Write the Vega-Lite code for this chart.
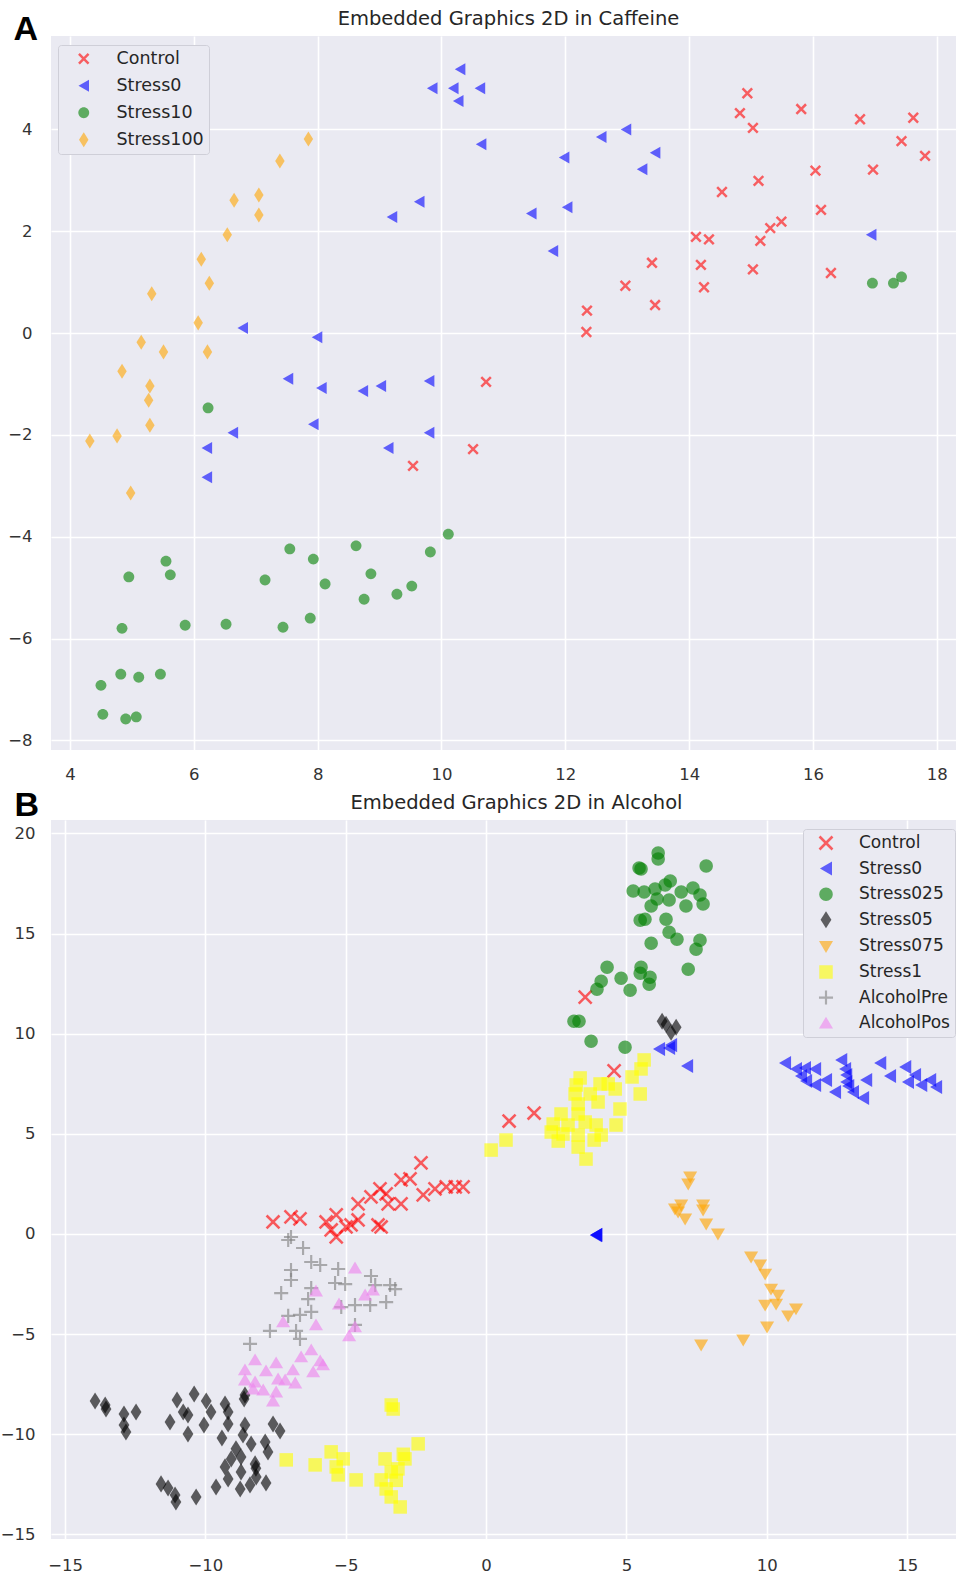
{
  "$schema": "https://vega.github.io/schema/vega-lite/v6.json",
  "background": "white",
  "padding": {"left": 0, "top": 8, "right": 0, "bottom": 0},
  "spacing": 5,
  "config": {
    "font": "DejaVu Sans",
    "view": {"fill": "#eaeaf2", "stroke": null},
    "axis": {"domain": false, "ticks": false, "grid": true, "gridColor": "#ffffff", "gridWidth": 1.6, "labelFont": "DejaVu Sans", "labelFontSize": 16.5, "labelColor": "#333333"},
    "legend": {"orient": "none", "padding": 5, "rowPadding": 8, "labelFont": "DejaVu Sans", "labelColor": "#262626", "symbolStrokeWidth": 0, "symbolOpacity": 0.6, "fillColor": "#eaeaf2", "strokeColor": "#cfcfd8", "cornerRadius": 3}
  },
  "resolve": {
    "scale": {"x": "independent", "y": "independent", "color": "independent", "shape": "independent"},
    "legend": {"color": "independent", "shape": "independent"}
  },
  "datasets": {
    "caffeine": [
      {"x": 14.94, "y": 4.71, "g": "Control"}, {"x": 14.82, "y": 4.32, "g": "Control"}, {"x": 15.03, "y": 4.03, "g": "Control"}, {"x": 15.81, "y": 4.40, "g": "Control"}, {"x": 16.76, "y": 4.20, "g": "Control"}, {"x": 17.62, "y": 4.23, "g": "Control"}, {"x": 17.43, "y": 3.77, "g": "Control"}, {"x": 17.81, "y": 3.48, "g": "Control"}, {"x": 16.04, "y": 3.19, "g": "Control"}, {"x": 16.97, "y": 3.21, "g": "Control"}, {"x": 15.12, "y": 2.99, "g": "Control"}, {"x": 14.53, "y": 2.77, "g": "Control"}, {"x": 16.13, "y": 2.42, "g": "Control"}, {"x": 15.49, "y": 2.19, "g": "Control"}, {"x": 15.31, "y": 2.06, "g": "Control"}, {"x": 14.11, "y": 1.89, "g": "Control"}, {"x": 14.32, "y": 1.84, "g": "Control"}, {"x": 15.15, "y": 1.81, "g": "Control"}, {"x": 13.40, "y": 1.38, "g": "Control"}, {"x": 14.19, "y": 1.34, "g": "Control"}, {"x": 15.03, "y": 1.25, "g": "Control"}, {"x": 16.29, "y": 1.18, "g": "Control"}, {"x": 12.97, "y": 0.93, "g": "Control"}, {"x": 14.24, "y": 0.90, "g": "Control"}, {"x": 13.45, "y": 0.55, "g": "Control"}, {"x": 12.35, "y": 0.44, "g": "Control"}, {"x": 12.34, "y": 0.02, "g": "Control"}, {"x": 10.72, "y": -0.96, "g": "Control"}, {"x": 10.51, "y": -2.28, "g": "Control"}, {"x": 9.54, "y": -2.61, "g": "Control"},
      {"x": 10.30, "y": 5.18, "g": "Stress0"}, {"x": 9.85, "y": 4.81, "g": "Stress0"}, {"x": 10.19, "y": 4.81, "g": "Stress0"}, {"x": 10.27, "y": 4.56, "g": "Stress0"}, {"x": 10.62, "y": 4.81, "g": "Stress0"}, {"x": 10.64, "y": 3.71, "g": "Stress0"}, {"x": 12.58, "y": 3.85, "g": "Stress0"}, {"x": 12.98, "y": 4.00, "g": "Stress0"}, {"x": 11.98, "y": 3.45, "g": "Stress0"}, {"x": 13.45, "y": 3.54, "g": "Stress0"}, {"x": 13.24, "y": 3.22, "g": "Stress0"}, {"x": 11.45, "y": 2.35, "g": "Stress0"}, {"x": 12.03, "y": 2.47, "g": "Stress0"}, {"x": 11.80, "y": 1.61, "g": "Stress0"}, {"x": 16.94, "y": 1.93, "g": "Stress0"}, {"x": 9.64, "y": 2.58, "g": "Stress0"}, {"x": 9.20, "y": 2.28, "g": "Stress0"}, {"x": 6.79, "y": 0.10, "g": "Stress0"}, {"x": 7.99, "y": -0.08, "g": "Stress0"}, {"x": 7.52, "y": -0.90, "g": "Stress0"}, {"x": 8.06, "y": -1.08, "g": "Stress0"}, {"x": 8.73, "y": -1.14, "g": "Stress0"}, {"x": 9.02, "y": -1.04, "g": "Stress0"}, {"x": 9.80, "y": -0.94, "g": "Stress0"}, {"x": 7.93, "y": -1.79, "g": "Stress0"}, {"x": 6.63, "y": -1.96, "g": "Stress0"}, {"x": 9.80, "y": -1.96, "g": "Stress0"}, {"x": 6.21, "y": -2.26, "g": "Stress0"}, {"x": 9.14, "y": -2.26, "g": "Stress0"}, {"x": 6.21, "y": -2.83, "g": "Stress0"},
      {"x": 16.96, "y": 0.98, "g": "Stress10"}, {"x": 17.30, "y": 0.98, "g": "Stress10"}, {"x": 17.43, "y": 1.10, "g": "Stress10"}, {"x": 6.23, "y": -1.47, "g": "Stress10"}, {"x": 10.11, "y": -3.95, "g": "Stress10"}, {"x": 7.55, "y": -4.24, "g": "Stress10"}, {"x": 8.62, "y": -4.18, "g": "Stress10"}, {"x": 7.93, "y": -4.44, "g": "Stress10"}, {"x": 9.82, "y": -4.30, "g": "Stress10"}, {"x": 5.55, "y": -4.48, "g": "Stress10"}, {"x": 5.62, "y": -4.75, "g": "Stress10"}, {"x": 4.95, "y": -4.79, "g": "Stress10"}, {"x": 7.15, "y": -4.85, "g": "Stress10"}, {"x": 8.12, "y": -4.93, "g": "Stress10"}, {"x": 8.86, "y": -4.73, "g": "Stress10"}, {"x": 8.75, "y": -5.23, "g": "Stress10"}, {"x": 9.28, "y": -5.13, "g": "Stress10"}, {"x": 9.52, "y": -4.97, "g": "Stress10"}, {"x": 7.88, "y": -5.60, "g": "Stress10"}, {"x": 7.44, "y": -5.78, "g": "Stress10"}, {"x": 6.52, "y": -5.72, "g": "Stress10"}, {"x": 5.86, "y": -5.74, "g": "Stress10"}, {"x": 4.84, "y": -5.80, "g": "Stress10"}, {"x": 4.82, "y": -6.70, "g": "Stress10"}, {"x": 5.11, "y": -6.76, "g": "Stress10"}, {"x": 5.46, "y": -6.70, "g": "Stress10"}, {"x": 4.50, "y": -6.92, "g": "Stress10"}, {"x": 4.53, "y": -7.49, "g": "Stress10"}, {"x": 4.90, "y": -7.58, "g": "Stress10"}, {"x": 5.07, "y": -7.54, "g": "Stress10"},
      {"x": 7.85, "y": 3.81, "g": "Stress100"}, {"x": 7.39, "y": 3.38, "g": "Stress100"}, {"x": 7.05, "y": 2.71, "g": "Stress100"}, {"x": 6.65, "y": 2.61, "g": "Stress100"}, {"x": 7.05, "y": 2.32, "g": "Stress100"}, {"x": 6.54, "y": 1.93, "g": "Stress100"}, {"x": 6.12, "y": 1.45, "g": "Stress100"}, {"x": 6.25, "y": 0.98, "g": "Stress100"}, {"x": 5.32, "y": 0.77, "g": "Stress100"}, {"x": 6.07, "y": 0.20, "g": "Stress100"}, {"x": 5.15, "y": -0.18, "g": "Stress100"}, {"x": 5.51, "y": -0.37, "g": "Stress100"}, {"x": 6.22, "y": -0.37, "g": "Stress100"}, {"x": 4.84, "y": -0.75, "g": "Stress100"}, {"x": 5.29, "y": -1.04, "g": "Stress100"}, {"x": 5.27, "y": -1.32, "g": "Stress100"}, {"x": 5.29, "y": -1.81, "g": "Stress100"}, {"x": 4.76, "y": -2.02, "g": "Stress100"}, {"x": 4.32, "y": -2.12, "g": "Stress100"}, {"x": 4.98, "y": -3.14, "g": "Stress100"}
    ],
    "alcohol": [
      {"x": 3.53, "y": 11.83, "g": "Control"}, {"x": 4.56, "y": 8.14, "g": "Control"}, {"x": 1.71, "y": 6.04, "g": "Control"}, {"x": 0.82, "y": 5.64, "g": "Control"}, {"x": -7.59, "y": 0.60, "g": "Control"}, {"x": -6.95, "y": 0.85, "g": "Control"}, {"x": -6.63, "y": 0.75, "g": "Control"}, {"x": -5.70, "y": 0.60, "g": "Control"}, {"x": -5.34, "y": 0.95, "g": "Control"}, {"x": -5.52, "y": 0.20, "g": "Control"}, {"x": -5.34, "y": -0.15, "g": "Control"}, {"x": -4.99, "y": 0.35, "g": "Control"}, {"x": -4.81, "y": 0.45, "g": "Control"}, {"x": -4.56, "y": 0.70, "g": "Control"}, {"x": -4.56, "y": 1.50, "g": "Control"}, {"x": -4.10, "y": 1.85, "g": "Control"}, {"x": -3.78, "y": 2.25, "g": "Control"}, {"x": -3.56, "y": 2.00, "g": "Control"}, {"x": -3.49, "y": 1.50, "g": "Control"}, {"x": -3.03, "y": 1.50, "g": "Control"}, {"x": -3.85, "y": 0.45, "g": "Control"}, {"x": -3.74, "y": 0.35, "g": "Control"}, {"x": -3.03, "y": 2.70, "g": "Control"}, {"x": -2.71, "y": 2.75, "g": "Control"}, {"x": -2.24, "y": 1.95, "g": "Control"}, {"x": -1.82, "y": 2.25, "g": "Control"}, {"x": -1.42, "y": 2.35, "g": "Control"}, {"x": -1.10, "y": 2.35, "g": "Control"}, {"x": -0.82, "y": 2.35, "g": "Control"}, {"x": -2.32, "y": 3.55, "g": "Control"},
      {"x": 6.16, "y": 9.24, "g": "Stress0"}, {"x": 6.52, "y": 9.29, "g": "Stress0"}, {"x": 6.59, "y": 9.43, "g": "Stress0"}, {"x": 7.16, "y": 8.39, "g": "Stress0"}, {"x": 10.65, "y": 8.54, "g": "Stress0"}, {"x": 11.04, "y": 8.24, "g": "Stress0"}, {"x": 11.36, "y": 8.29, "g": "Stress0"}, {"x": 11.72, "y": 8.24, "g": "Stress0"}, {"x": 11.22, "y": 7.89, "g": "Stress0"}, {"x": 11.40, "y": 7.64, "g": "Stress0"}, {"x": 11.72, "y": 7.44, "g": "Stress0"}, {"x": 12.11, "y": 7.69, "g": "Stress0"}, {"x": 12.65, "y": 8.69, "g": "Stress0"}, {"x": 12.79, "y": 8.24, "g": "Stress0"}, {"x": 12.83, "y": 7.94, "g": "Stress0"}, {"x": 12.83, "y": 7.59, "g": "Stress0"}, {"x": 12.43, "y": 7.09, "g": "Stress0"}, {"x": 12.90, "y": 7.39, "g": "Stress0"}, {"x": 13.07, "y": 7.09, "g": "Stress0"}, {"x": 13.43, "y": 6.79, "g": "Stress0"}, {"x": 13.54, "y": 7.69, "g": "Stress0"}, {"x": 14.04, "y": 8.54, "g": "Stress0"}, {"x": 14.39, "y": 7.89, "g": "Stress0"}, {"x": 14.93, "y": 8.34, "g": "Stress0"}, {"x": 15.28, "y": 7.94, "g": "Stress0"}, {"x": 15.03, "y": 7.59, "g": "Stress0"}, {"x": 15.50, "y": 7.44, "g": "Stress0"}, {"x": 15.82, "y": 7.69, "g": "Stress0"}, {"x": 16.03, "y": 7.34, "g": "Stress0"}, {"x": 3.92, "y": -0.05, "g": "Stress0"}, {"x": 3.93, "y": -0.04, "g": "Stress0"}, {"x": 3.91, "y": -0.06, "g": "Stress0"},
      {"x": 6.13, "y": 19.02, "g": "Stress025"}, {"x": 6.13, "y": 18.72, "g": "Stress025"}, {"x": 5.45, "y": 18.27, "g": "Stress025"}, {"x": 5.52, "y": 18.22, "g": "Stress025"}, {"x": 7.84, "y": 18.37, "g": "Stress025"}, {"x": 5.24, "y": 17.12, "g": "Stress025"}, {"x": 5.63, "y": 17.07, "g": "Stress025"}, {"x": 6.02, "y": 17.22, "g": "Stress025"}, {"x": 6.38, "y": 17.42, "g": "Stress025"}, {"x": 6.56, "y": 17.62, "g": "Stress025"}, {"x": 6.95, "y": 17.07, "g": "Stress025"}, {"x": 7.37, "y": 17.27, "g": "Stress025"}, {"x": 7.62, "y": 16.92, "g": "Stress025"}, {"x": 6.09, "y": 16.72, "g": "Stress025"}, {"x": 6.52, "y": 16.67, "g": "Stress025"}, {"x": 5.88, "y": 16.37, "g": "Stress025"}, {"x": 7.12, "y": 16.37, "g": "Stress025"}, {"x": 7.73, "y": 16.47, "g": "Stress025"}, {"x": 5.49, "y": 15.67, "g": "Stress025"}, {"x": 5.66, "y": 15.72, "g": "Stress025"}, {"x": 6.41, "y": 15.72, "g": "Stress025"}, {"x": 6.52, "y": 15.07, "g": "Stress025"}, {"x": 6.80, "y": 14.72, "g": "Stress025"}, {"x": 5.88, "y": 14.52, "g": "Stress025"}, {"x": 7.62, "y": 14.67, "g": "Stress025"}, {"x": 7.48, "y": 14.22, "g": "Stress025"}, {"x": 4.31, "y": 13.32, "g": "Stress025"}, {"x": 5.52, "y": 13.32, "g": "Stress025"}, {"x": 5.49, "y": 13.02, "g": "Stress025"}, {"x": 5.84, "y": 12.82, "g": "Stress025"}, {"x": 7.20, "y": 13.22, "g": "Stress025"}, {"x": 4.81, "y": 12.77, "g": "Stress025"}, {"x": 4.10, "y": 12.62, "g": "Stress025"}, {"x": 5.81, "y": 12.47, "g": "Stress025"}, {"x": 3.95, "y": 12.22, "g": "Stress025"}, {"x": 5.13, "y": 12.17, "g": "Stress025"}, {"x": 3.13, "y": 10.62, "g": "Stress025"}, {"x": 3.31, "y": 10.62, "g": "Stress025"}, {"x": 3.74, "y": 9.62, "g": "Stress025"}, {"x": 4.95, "y": 9.32, "g": "Stress025"},
      {"x": 6.27, "y": 10.62, "g": "Stress05"}, {"x": 6.41, "y": 10.47, "g": "Stress05"}, {"x": 6.77, "y": 10.32, "g": "Stress05"}, {"x": 6.59, "y": 10.07, "g": "Stress05"}, {"x": -13.93, "y": -8.34, "g": "Stress05"}, {"x": -13.57, "y": -8.54, "g": "Stress05"}, {"x": -13.54, "y": -8.74, "g": "Stress05"}, {"x": -12.90, "y": -8.99, "g": "Stress05"}, {"x": -12.47, "y": -8.89, "g": "Stress05"}, {"x": -12.90, "y": -9.54, "g": "Stress05"}, {"x": -12.83, "y": -9.89, "g": "Stress05"}, {"x": -11.01, "y": -8.29, "g": "Stress05"}, {"x": -10.40, "y": -7.99, "g": "Stress05"}, {"x": -9.97, "y": -8.34, "g": "Stress05"}, {"x": -10.79, "y": -8.89, "g": "Stress05"}, {"x": -10.62, "y": -9.04, "g": "Stress05"}, {"x": -9.80, "y": -8.89, "g": "Stress05"}, {"x": -9.30, "y": -8.49, "g": "Stress05"}, {"x": -9.19, "y": -8.89, "g": "Stress05"}, {"x": -8.59, "y": -8.04, "g": "Stress05"}, {"x": -8.62, "y": -8.24, "g": "Stress05"}, {"x": -11.26, "y": -9.39, "g": "Stress05"}, {"x": -10.05, "y": -9.54, "g": "Stress05"}, {"x": -9.19, "y": -9.49, "g": "Stress05"}, {"x": -8.59, "y": -9.54, "g": "Stress05"}, {"x": -10.62, "y": -9.99, "g": "Stress05"}, {"x": -7.59, "y": -9.49, "g": "Stress05"}, {"x": -7.34, "y": -9.84, "g": "Stress05"}, {"x": -9.41, "y": -10.19, "g": "Stress05"}, {"x": -8.66, "y": -10.04, "g": "Stress05"}, {"x": -8.37, "y": -10.49, "g": "Stress05"}, {"x": -7.87, "y": -10.39, "g": "Stress05"}, {"x": -8.91, "y": -10.73, "g": "Stress05"}, {"x": -7.77, "y": -10.88, "g": "Stress05"}, {"x": -9.08, "y": -11.23, "g": "Stress05"}, {"x": -8.73, "y": -11.13, "g": "Stress05"}, {"x": -8.23, "y": -11.48, "g": "Stress05"}, {"x": -9.30, "y": -11.63, "g": "Stress05"}, {"x": -8.20, "y": -11.70, "g": "Stress05"}, {"x": -8.73, "y": -11.88, "g": "Stress05"}, {"x": -9.19, "y": -12.23, "g": "Stress05"}, {"x": -8.19, "y": -12.13, "g": "Stress05"}, {"x": -7.84, "y": -12.43, "g": "Stress05"}, {"x": -8.41, "y": -12.53, "g": "Stress05"}, {"x": -8.76, "y": -12.73, "g": "Stress05"}, {"x": -9.62, "y": -12.63, "g": "Stress05"}, {"x": -11.58, "y": -12.48, "g": "Stress05"}, {"x": -11.33, "y": -12.68, "g": "Stress05"}, {"x": -11.08, "y": -13.03, "g": "Stress05"}, {"x": -11.05, "y": -13.38, "g": "Stress05"}, {"x": -10.33, "y": -13.13, "g": "Stress05"},
      {"x": 7.27, "y": 2.85, "g": "Stress075"}, {"x": 7.20, "y": 2.50, "g": "Stress075"}, {"x": 6.73, "y": 1.25, "g": "Stress075"}, {"x": 6.95, "y": 1.45, "g": "Stress075"}, {"x": 6.84, "y": 1.10, "g": "Stress075"}, {"x": 7.09, "y": 0.75, "g": "Stress075"}, {"x": 7.73, "y": 1.45, "g": "Stress075"}, {"x": 7.73, "y": 1.20, "g": "Stress075"}, {"x": 7.84, "y": 0.50, "g": "Stress075"}, {"x": 8.26, "y": 0.00, "g": "Stress075"}, {"x": 9.44, "y": -1.15, "g": "Stress075"}, {"x": 9.76, "y": -1.55, "g": "Stress075"}, {"x": 9.94, "y": -2.00, "g": "Stress075"}, {"x": 10.15, "y": -2.75, "g": "Stress075"}, {"x": 10.40, "y": -3.05, "g": "Stress075"}, {"x": 9.94, "y": -3.55, "g": "Stress075"}, {"x": 10.33, "y": -3.50, "g": "Stress075"}, {"x": 11.04, "y": -3.74, "g": "Stress075"}, {"x": 10.76, "y": -4.09, "g": "Stress075"}, {"x": 10.01, "y": -4.64, "g": "Stress075"}, {"x": 9.16, "y": -5.29, "g": "Stress075"}, {"x": 7.66, "y": -5.54, "g": "Stress075"},
      {"x": 5.63, "y": 8.69, "g": "Stress1"}, {"x": 5.52, "y": 8.24, "g": "Stress1"}, {"x": 5.20, "y": 7.84, "g": "Stress1"}, {"x": 3.35, "y": 7.79, "g": "Stress1"}, {"x": 4.06, "y": 7.49, "g": "Stress1"}, {"x": 4.35, "y": 7.49, "g": "Stress1"}, {"x": 4.60, "y": 7.24, "g": "Stress1"}, {"x": 3.21, "y": 7.44, "g": "Stress1"}, {"x": 3.17, "y": 6.99, "g": "Stress1"}, {"x": 3.71, "y": 6.99, "g": "Stress1"}, {"x": 5.49, "y": 6.99, "g": "Stress1"}, {"x": 3.99, "y": 6.59, "g": "Stress1"}, {"x": 3.28, "y": 6.49, "g": "Stress1"}, {"x": 4.77, "y": 6.24, "g": "Stress1"}, {"x": 2.67, "y": 5.99, "g": "Stress1"}, {"x": 3.28, "y": 5.99, "g": "Stress1"}, {"x": 2.39, "y": 5.49, "g": "Stress1"}, {"x": 2.92, "y": 5.44, "g": "Stress1"}, {"x": 3.53, "y": 5.59, "g": "Stress1"}, {"x": 3.92, "y": 5.44, "g": "Stress1"}, {"x": 4.63, "y": 5.44, "g": "Stress1"}, {"x": 2.32, "y": 5.09, "g": "Stress1"}, {"x": 2.74, "y": 4.99, "g": "Stress1"}, {"x": 3.28, "y": 4.94, "g": "Stress1"}, {"x": 3.85, "y": 4.69, "g": "Stress1"}, {"x": 4.10, "y": 4.94, "g": "Stress1"}, {"x": 2.57, "y": 4.64, "g": "Stress1"}, {"x": 3.28, "y": 4.34, "g": "Stress1"}, {"x": 3.56, "y": 3.74, "g": "Stress1"}, {"x": 0.71, "y": 4.69, "g": "Stress1"}, {"x": 0.18, "y": 4.19, "g": "Stress1"},
      {"x": -3.31, "y": -8.74, "g": "Stress1"}, {"x": -3.38, "y": -8.54, "g": "Stress1"}, {"x": -2.42, "y": -10.48, "g": "Stress1"}, {"x": -2.95, "y": -11.00, "g": "Stress1"}, {"x": -2.89, "y": -11.23, "g": "Stress1"}, {"x": -3.60, "y": -11.23, "g": "Stress1"}, {"x": -3.14, "y": -11.73, "g": "Stress1"}, {"x": -3.38, "y": -11.88, "g": "Stress1"}, {"x": -3.20, "y": -12.30, "g": "Stress1"}, {"x": -3.74, "y": -12.28, "g": "Stress1"}, {"x": -3.56, "y": -12.73, "g": "Stress1"}, {"x": -3.38, "y": -13.13, "g": "Stress1"}, {"x": -3.06, "y": -13.63, "g": "Stress1"}, {"x": -5.52, "y": -10.88, "g": "Stress1"}, {"x": -5.09, "y": -11.23, "g": "Stress1"}, {"x": -5.34, "y": -11.63, "g": "Stress1"}, {"x": -6.09, "y": -11.53, "g": "Stress1"}, {"x": -5.27, "y": -12.03, "g": "Stress1"}, {"x": -4.63, "y": -12.28, "g": "Stress1"}, {"x": -7.12, "y": -11.28, "g": "Stress1"},
      {"x": -7.05, "y": -0.30, "g": "AlcoholPre"}, {"x": -6.95, "y": -0.15, "g": "AlcoholPre"}, {"x": -6.52, "y": -0.70, "g": "AlcoholPre"}, {"x": -6.23, "y": -1.40, "g": "AlcoholPre"}, {"x": -5.91, "y": -1.55, "g": "AlcoholPre"}, {"x": -6.95, "y": -1.80, "g": "AlcoholPre"}, {"x": -6.95, "y": -2.30, "g": "AlcoholPre"}, {"x": -5.27, "y": -1.75, "g": "AlcoholPre"}, {"x": -4.10, "y": -2.10, "g": "AlcoholPre"}, {"x": -5.38, "y": -2.45, "g": "AlcoholPre"}, {"x": -5.02, "y": -2.50, "g": "AlcoholPre"}, {"x": -3.95, "y": -2.55, "g": "AlcoholPre"}, {"x": -3.42, "y": -2.55, "g": "AlcoholPre"}, {"x": -3.24, "y": -2.75, "g": "AlcoholPre"}, {"x": -6.23, "y": -2.70, "g": "AlcoholPre"}, {"x": -7.30, "y": -2.95, "g": "AlcoholPre"}, {"x": -6.34, "y": -3.25, "g": "AlcoholPre"}, {"x": -4.67, "y": -3.55, "g": "AlcoholPre"}, {"x": -4.13, "y": -3.55, "g": "AlcoholPre"}, {"x": -3.56, "y": -3.40, "g": "AlcoholPre"}, {"x": -5.16, "y": -3.65, "g": "AlcoholPre"}, {"x": -7.05, "y": -4.09, "g": "AlcoholPre"}, {"x": -6.63, "y": -4.04, "g": "AlcoholPre"}, {"x": -6.23, "y": -3.89, "g": "AlcoholPre"}, {"x": -7.70, "y": -4.84, "g": "AlcoholPre"}, {"x": -6.77, "y": -4.84, "g": "AlcoholPre"}, {"x": -6.63, "y": -5.24, "g": "AlcoholPre"}, {"x": -8.41, "y": -5.49, "g": "AlcoholPre"}, {"x": -4.67, "y": -4.54, "g": "AlcoholPre"},
      {"x": -4.67, "y": -1.70, "g": "AlcoholPos"}, {"x": -6.06, "y": -2.85, "g": "AlcoholPos"}, {"x": -4.03, "y": -2.80, "g": "AlcoholPos"}, {"x": -4.31, "y": -3.05, "g": "AlcoholPos"}, {"x": -5.24, "y": -3.50, "g": "AlcoholPos"}, {"x": -7.23, "y": -4.39, "g": "AlcoholPos"}, {"x": -6.06, "y": -4.54, "g": "AlcoholPos"}, {"x": -4.67, "y": -4.64, "g": "AlcoholPos"}, {"x": -4.88, "y": -5.09, "g": "AlcoholPos"}, {"x": -8.23, "y": -6.29, "g": "AlcoholPos"}, {"x": -7.48, "y": -6.44, "g": "AlcoholPos"}, {"x": -6.59, "y": -6.14, "g": "AlcoholPos"}, {"x": -6.23, "y": -5.79, "g": "AlcoholPos"}, {"x": -5.91, "y": -6.34, "g": "AlcoholPos"}, {"x": -5.81, "y": -6.54, "g": "AlcoholPos"}, {"x": -8.59, "y": -6.79, "g": "AlcoholPos"}, {"x": -7.84, "y": -6.84, "g": "AlcoholPos"}, {"x": -6.88, "y": -6.79, "g": "AlcoholPos"}, {"x": -6.16, "y": -6.89, "g": "AlcoholPos"}, {"x": -8.59, "y": -7.29, "g": "AlcoholPos"}, {"x": -8.23, "y": -7.39, "g": "AlcoholPos"}, {"x": -7.41, "y": -7.24, "g": "AlcoholPos"}, {"x": -7.16, "y": -7.29, "g": "AlcoholPos"}, {"x": -6.80, "y": -7.44, "g": "AlcoholPos"}, {"x": -8.30, "y": -7.74, "g": "AlcoholPos"}, {"x": -7.94, "y": -7.79, "g": "AlcoholPos"}, {"x": -7.48, "y": -7.89, "g": "AlcoholPos"}, {"x": -7.59, "y": -8.34, "g": "AlcoholPos"}
    ]
  },
  "vconcat": [
    {
      "width": 905,
      "height": 714,
      "title": {"text": "Embedded Graphics 2D in Caffeine", "frame": "group", "fontSize": 19.5, "fontWeight": "normal", "font": "DejaVu Sans", "color": "#262626", "offset": -17, "dx": 5},
      "data": {"name": "caffeine"},
      "mark": {"type": "point", "filled": true, "opacity": 0.6, "size": 256},
      "encoding": {
        "x": {"field": "x", "type": "quantitative", "scale": {"domain": [3.693, 18.31], "nice": false, "zero": false}, "axis": {"values": [4, 6, 8, 10, 12, 14, 16, 18], "title": null, "labelPadding": 16, "format": "d"}},
        "y": {"field": "y", "type": "quantitative", "scale": {"domain": [-8.19, 5.835], "nice": false, "zero": false}, "axis": {"values": [-8, -6, -4, -2, 0, 2, 4], "format": "d", "labelPadding": 19, "title": "A", "titleAngle": 0, "titleFont": "Liberation Sans", "titleFontSize": 34, "titleFontWeight": "bold", "titleColor": "#000000", "titleAlign": "left", "titleBaseline": "alphabetic", "titleX": -38, "titleY": 3}},
        "color": {"field": "g", "type": "nominal", "scale": {"domain": ["Control", "Stress0", "Stress10", "Stress100"], "range": ["#ff0000", "#0000ff", "#008000", "#ffa500"]}, "legend": {"title": null, "legendX": 7, "legendY": 9, "symbolOffset": 12, "labelOffset": 24, "labelFontSize": 17.5, "symbolSize": 256}},
        "shape": {"field": "g", "type": "nominal", "scale": {"domain": ["Control", "Stress0", "Stress10", "Stress100"], "range": ["M-0.49,-0.71L0.71,0.49L0.49,0.71L-0.71,-0.49ZM-0.71,0.49L0.49,-0.71L0.71,-0.49L-0.49,0.71Z", "M-0.66,0L0.66,-0.75L0.66,0.75Z", "M-0.68,0A0.68,0.68,0,1,0,0.68,0A0.68,0.68,0,1,0,-0.68,0Z", "M0,-0.94L0.59,0L0,0.94L-0.59,0Z"]}, "legend": {"title": null, "legendX": 7, "legendY": 9, "symbolOffset": 12, "labelOffset": 24, "labelFontSize": 17.5, "symbolSize": 256}}
      }
    },
    {
      "width": 905,
      "height": 719,
      "title": {"text": "Embedded Graphics 2D in Alcohol", "frame": "group", "fontSize": 19.5, "fontWeight": "normal", "font": "DejaVu Sans", "color": "#262626", "offset": -25, "dx": 13},
      "data": {"name": "alcohol"},
      "mark": {"type": "point", "filled": true, "opacity": 0.62, "size": 324},
      "encoding": {
        "x": {"field": "x", "type": "quantitative", "scale": {"domain": [-15.5, 16.74], "nice": false, "zero": false}, "axis": {"values": [-15, -10, -5, 0, 5, 10, 15], "title": null, "labelPadding": 18, "format": "d"}},
        "y": {"field": "y", "type": "quantitative", "scale": {"domain": [-15.23, 20.67], "nice": false, "zero": false}, "axis": {"values": [-15, -10, -5, 0, 5, 10, 15, 20], "format": "d", "labelPadding": 16, "title": "B", "titleAngle": 0, "titleFont": "Liberation Sans", "titleFontSize": 34, "titleFontWeight": "bold", "titleColor": "#000000", "titleAlign": "left", "titleBaseline": "alphabetic", "titleX": -37, "titleY": -5}},
        "color": {"field": "g", "type": "nominal", "scale": {"domain": ["Control", "Stress0", "Stress025", "Stress05", "Stress075", "Stress1", "AlcoholPre", "AlcoholPos"], "range": ["#ff0000", "#0000ff", "#008000", "#000000", "#ffa500", "#ffff00", "#808080", "#ee82ee"]}, "legend": {"title": null, "legendX": 752, "legendY": 9, "rowPadding": 8.6, "symbolOffset": 9, "labelOffset": 24, "labelFontSize": 17, "symbolSize": 324}},
        "shape": {"field": "g", "type": "nominal", "scale": {"domain": ["Control", "Stress0", "Stress025", "Stress05", "Stress075", "Stress1", "AlcoholPre", "AlcoholPos"], "range": ["M-0.62,-0.82L0.82,0.62L0.62,0.82L-0.82,-0.62ZM-0.82,0.62L0.62,-0.82L0.82,-0.62L-0.62,0.82Z", "M-0.67,0L0.67,-0.78L0.67,0.78Z", "M-0.75,0A0.75,0.75,0,1,0,0.75,0A0.75,0.75,0,1,0,-0.75,0Z", "M0,-0.95L0.6,0L0,0.95L-0.6,0Z", "M-0.78,-0.6L0.78,-0.6L0,0.72Z", "M-0.75,-0.75L0.75,-0.75L0.75,0.75L-0.75,0.75Z", "M-0.78,-0.12L-0.12,-0.12L-0.12,-0.78L0.12,-0.78L0.12,-0.12L0.78,-0.12L0.78,0.12L0.12,0.12L0.12,0.78L-0.12,0.78L-0.12,0.12L-0.78,0.12Z", "M-0.78,0.6L0.78,0.6L0,-0.72Z"]}, "legend": {"title": null, "legendX": 752, "legendY": 9, "rowPadding": 8.6, "symbolOffset": 9, "labelOffset": 24, "labelFontSize": 17, "symbolSize": 324}}
      }
    }
  ]
}
